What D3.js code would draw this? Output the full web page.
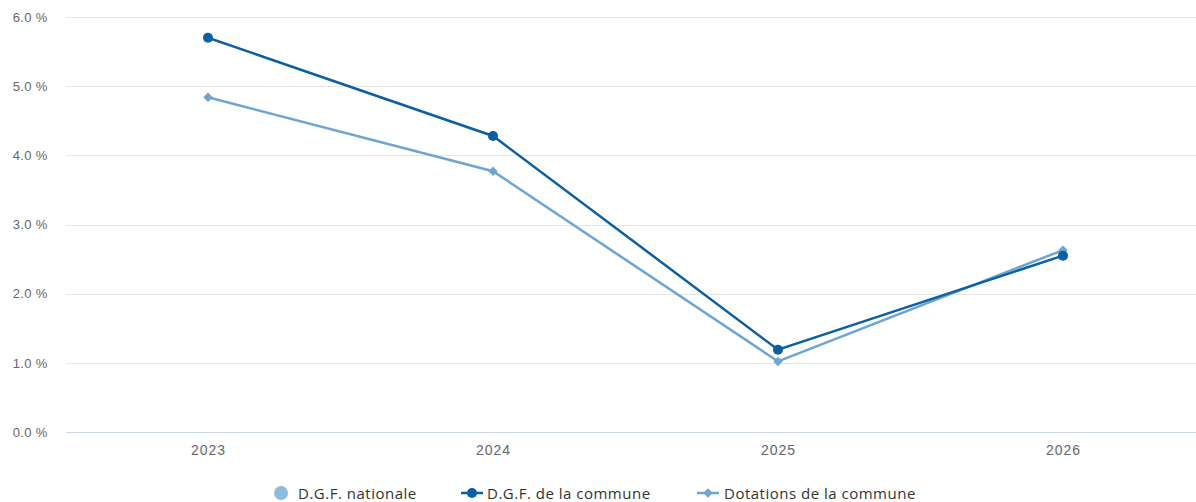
<!DOCTYPE html>
<html><head><meta charset="utf-8">
<script src="https://cdn.jsdelivr.net/npm/d3@7"></script>
<style>body{margin:0;background:#fff}svg{display:block;font-family:"Open Sans",sans-serif}</style>
</head><body><svg id="c" width="1196" height="502"></svg>
<script>
const categories = ["2023","2024","2025","2026"];
const dgfNationale = [null,null,null,null];
const dgfCommune = [5.70,4.28,1.19,2.55];
const dotationsCommune = [4.84,3.77,1.02,2.63];
const yTicks = [0,1,2,3,4,5,6];
const seriesNames = ["D.G.F. nationale","D.G.F. de la commune","Dotations de la commune"];

(function(){
const svg = d3.select("#c");
const W = 1196, H = 502;
const mLeft = 65.5, mTop = 17, mBottom = 432;
const x = d3.scalePoint().domain(categories).range([mLeft, 1205.5]).padding(0.5);
const y = d3.scaleLinear().domain([0,6]).range([mBottom, mTop]);

// grid
const gy = svg.append("g").attr("transform",`translate(${mLeft},0)`)
  .call(d3.axisLeft(y).tickValues(yTicks).tickSize(-(W-mLeft)).tickFormat(d=>d3.format(".1f")(d)+" %"));
gy.select(".domain").remove();
gy.selectAll(".tick line").attr("stroke","#e6e6e6").attr("shape-rendering","crispEdges");
gy.selectAll(".tick text").attr("x",-18).attr("fill","#666").style("font-size","13px").style("letter-spacing","0.3px");
gy.selectAll(".tick").filter(d=>d===0).select("line").attr("stroke","#ccd6eb");

// x axis
const gx = svg.append("g").attr("transform",`translate(0,${mBottom})`)
  .call(d3.axisBottom(x).tickSize(0).tickPadding(13));
gx.select(".domain").remove();
gx.selectAll(".tick text").attr("fill","#666").style("font-size","14px").style("letter-spacing","1px");

const colors = ["#8fb9dd","#0b5fa5","#6ea5d3"];
const line = d3.line().defined(d=>d.v!=null).x(d=>x(d.c)).y(d=>y(d.v));
function pts(vals){return categories.map((c,i)=>({c,v:vals[i]}));}
const diamond = d3.symbol(d3.symbolSquare,44)();

// dotations
svg.append("path").datum(pts(dotationsCommune)).attr("d",line).attr("fill","none").attr("stroke",colors[2]).attr("stroke-width",2.5);
svg.append("g").selectAll("path").data(pts(dotationsCommune)).join("path")
  .attr("d",diamond).attr("transform",d=>`translate(${x(d.c)},${y(d.v)}) rotate(45)`).attr("fill",colors[2]);
// dgf commune
svg.append("path").datum(pts(dgfCommune)).attr("d",line).attr("fill","none").attr("stroke",colors[1]).attr("stroke-width",2.5);
svg.append("g").selectAll("circle").data(pts(dgfCommune)).join("circle")
  .attr("cx",d=>x(d.c)).attr("cy",d=>y(d.v)).attr("r",5).attr("fill",colors[1]);

// legend
const lg = svg.append("g").style("font-size","15px").style("letter-spacing","0.5px").attr("fill","#333");
lg.append("circle").attr("cx",281).attr("cy",493).attr("r",7).attr("fill",colors[0]);
lg.append("text").attr("x",298).attr("y",498.5).text(seriesNames[0]);
lg.append("line").attr("x1",461).attr("x2",483).attr("y1",493).attr("y2",493).attr("stroke",colors[1]).attr("stroke-width",2.5);
lg.append("circle").attr("cx",472).attr("cy",493).attr("r",5).attr("fill",colors[1]);
lg.append("text").attr("x",487).attr("y",498.5).text(seriesNames[1]);
lg.append("line").attr("x1",697).attr("x2",719).attr("y1",493).attr("y2",493).attr("stroke",colors[2]).attr("stroke-width",2.5);
lg.append("path").attr("d",diamond).attr("transform","translate(708,493) rotate(45)").attr("fill",colors[2]);
lg.append("text").attr("x",724).attr("y",498.5).text(seriesNames[2]);
})();
</script></body></html>
